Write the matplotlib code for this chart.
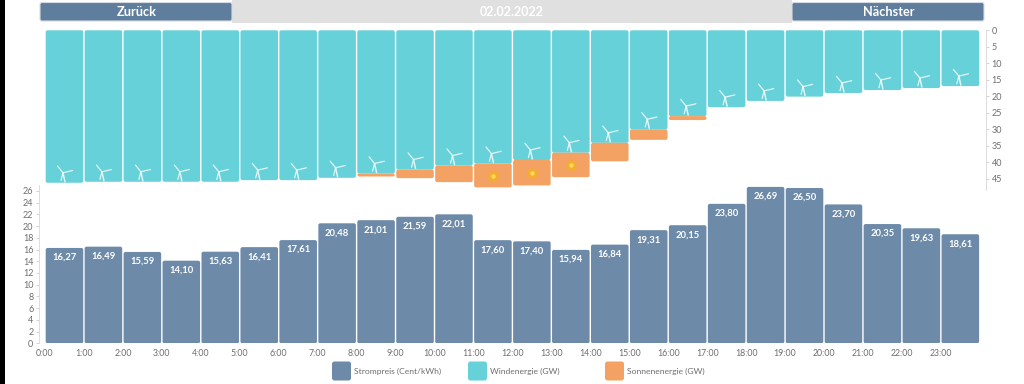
import numpy as np
import matplotlib
matplotlib.use('Agg')
import matplotlib.pyplot as plt
from matplotlib.patches import FancyBboxPatch, Rectangle

plt.rcParams['font.family'] = ['Lato', 'DejaVu Sans']

hours = [f'{h}:00' for h in range(24)]
price = [16.27, 16.49, 15.59, 14.10, 15.63, 16.41, 17.61, 20.48, 21.01, 21.59, 22.01, 17.60,
         17.40, 15.94, 16.84, 19.31, 20.15, 23.80, 26.69, 26.50, 23.70, 20.35, 19.63, 18.61]
wind = [46.2, 45.9, 45.9, 45.9, 45.9, 45.4, 45.4, 44.7, 43.4, 42.2, 41.0, 40.4,
        39.3, 37.1, 34.1, 30.0, 26.0, 23.3, 21.4, 20.1, 19.0, 18.1, 17.5, 16.9]
solar = [0, 0, 0, 0, 0, 0, 0, 0, 0.9, 2.6, 5.0, 7.2,
         7.7, 7.4, 5.6, 3.2, 1.2, 0, 0, 0, 0, 0, 0, 0]
price_ticks = list(range(0, 27, 2))
energy_ticks = list(range(0, 46, 5))

W, H = 1024, 384
BLUE = '#6d8aa8'
BTN = '#5f7d9c'
TEAL = '#66d1d8'
ORANGE = '#f4a263'
GREY = '#6e6e6e'

X0 = 45.0            # pixel of 0:00
PX_X = 38.95         # pixels per hour
PX_TOP = 3.3         # pixels per GW
PX_BOT = 5.86        # pixels per cent


def axes_px(fig, x0, y0, x1, y1):
    '''
    Adds an axes from pixel coordinates, y measured from the top
    '''
    return fig.add_axes([x0 / W, 1 - y1 / H, (x1 - x0) / W, (y1 - y0) / H])


def round_bar(ax, x, y0, y1, color, aspect):
    '''
    Draws one rounded bar between y0 and y1, in data units
    '''
    pad = 0.018
    box = FancyBboxPatch((x + pad, y0), 1 - 2 * pad, y1 - y0,
                         boxstyle='round,pad=0,rounding_size=0.05',
                         mutation_aspect=aspect, fc=color, ec='none', zorder=2)
    ax.add_patch(box)


def turbine(ax, x, bottom):
    '''
    Draws the small white wind turbine above the end of a wind bar
    '''
    hx, hy = x + 0.5 - 1.5 / PX_X, bottom - 10 / PX_TOP
    for dx, dy, lw in [(-5.5, -6.7, 0.9), (9.7, -2.3, 0.9), (-2, 7.7, 0.9), (2, 9, 1.1)]:
        ax.plot([hx, hx + dx / PX_X], [hy, hy + dy / PX_TOP], color='white', lw=lw,
                alpha=0.8, solid_capstyle='round', zorder=3)


fig = plt.figure(figsize=(W / 100, H / 100), dpi=100, facecolor='white')

# header
head = fig.add_axes([0, 0, 1, 1])
head.set_xlim(0, W)
head.set_ylim(H, 0)
head.axis('off')
head.add_patch(Rectangle((0, 0), 5, H, fc='black', ec='none'))
head.add_patch(Rectangle((232, 0), 560, 22.5, fc='#e0e0e0', ec='none'))
for x0, x1, label, tx in [(40, 232, 'Zurück', 136.5), (792, 984, 'Nächster', 888.5)]:
    head.add_patch(FancyBboxPatch((x0, 2.5), x1 - x0, 18.5, boxstyle='round,pad=0,rounding_size=2',
                                  fc=BTN, ec='#d6dbe2', lw=0.8))
    head.text(tx, 12.5, label, color='white', fontsize=9.2, fontweight='bold', ha='center', va='center')
head.text(512, 12.5, '02.02.2022', color='white', fontsize=9, fontweight='bold', ha='center', va='center')

# legend
for x0, label, col in [(332, 'Strompreis (Cent/kWh)', BLUE), (468, 'Windenergie (GW)', TEAL),
                       (605, 'Sonnenenergie (GW)', ORANGE)]:
    head.add_patch(FancyBboxPatch((x0, 361.5), 19, 19, boxstyle='round,pad=0,rounding_size=2.5',
                                  fc=col, ec='none'))
    head.text(x0 + 22, 371, label, color=GREY, fontsize=6.1, ha='left', va='center')

# top chart, energy hanging from y = 0
top = axes_px(fig, X0, 30.3, X0 + 24 * PX_X, 190)
top.patch.set_alpha(0)
top.set_xlim(0, 24)
top.set_ylim((190 - 30.3) / PX_TOP, 0)
asp_top = PX_X / PX_TOP
for i in range(24):
    round_bar(top, i, 0, wind[i], TEAL, asp_top)
    if solar[i] > 0:
        round_bar(top, i, wind[i], wind[i] + solar[i], ORANGE, asp_top)
    turbine(top, i, wind[i])
sun = [i for i in range(24) if solar[i] > 7]
sun_x = [i + 0.5 for i in sun]
sun_y = [wind[i] + solar[i] / 2 for i in sun]
top.scatter(sun_x, sun_y, s=55, color='#f5ae2c', zorder=3, linewidths=0)
top.scatter(sun_x, sun_y, s=10, color='#fcd85f', zorder=4, linewidths=0)
top.set_xticks([])
top.yaxis.tick_right()
top.set_yticks(energy_ticks)
top.tick_params(axis='y', length=2, width=0.6, color='#cccccc', labelsize=6.5, labelcolor=GREY, pad=2)
for s in top.spines.values():
    s.set_visible(False)
top.spines['right'].set_visible(True)
top.spines['right'].set_position(('outward', 4.5))
top.spines['right'].set_color('#dddddd')
top.spines['right'].set_linewidth(0.7)

# bottom chart, price
bot = axes_px(fig, X0, 185, X0 + 24 * PX_X, 343.3)
bot.patch.set_alpha(0)
bot.set_xlim(0, 24)
bot.set_ylim(0, (343.3 - 185) / PX_BOT)
asp_bot = PX_X / PX_BOT
for i in range(24):
    round_bar(bot, i, 0, price[i], BLUE, asp_bot)
    bot.text(i + 0.5, price[i] - 1.62, f'{price[i]:.2f}'.replace('.', ','), color='white',
             fontsize=6.8, fontweight='bold', ha='center', va='center', zorder=4)
bot.set_xticks(range(24))
bot.set_xticklabels(hours)
bot.set_yticks(price_ticks)
bot.tick_params(axis='x', length=0, labelsize=6.3, labelcolor=GREY, pad=4)
bot.tick_params(axis='y', length=2, width=0.6, color='#cccccc', labelsize=6.5, labelcolor=GREY, pad=2)
for s in bot.spines.values():
    s.set_visible(False)
bot.spines['left'].set_visible(True)
bot.spines['left'].set_position(('outward', 4.3))
bot.spines['left'].set_color('#dddddd')
bot.spines['left'].set_linewidth(0.7)

fig.savefig('out.png', dpi=100)
